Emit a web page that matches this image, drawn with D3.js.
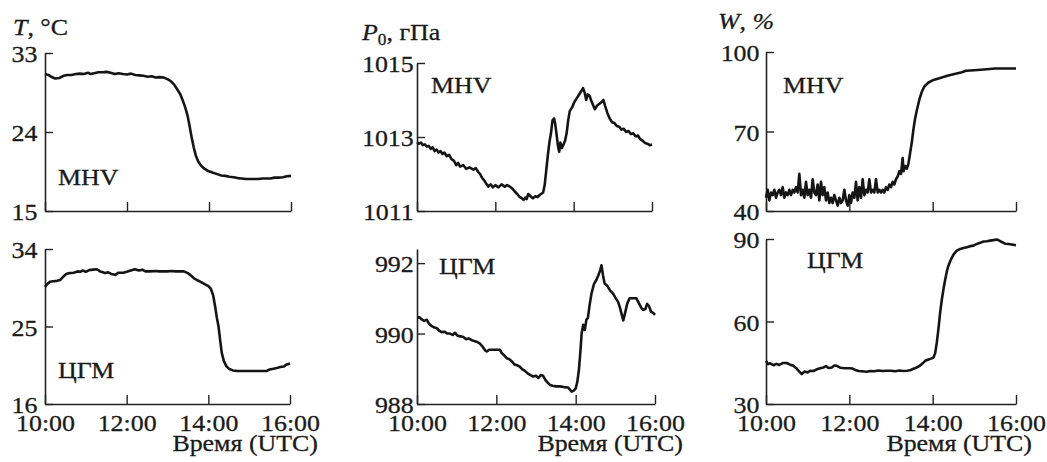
<!DOCTYPE html>
<html>
<head>
<meta charset="utf-8">
<script src="https://cdn.jsdelivr.net/npm/d3@7"></script>
<style>
  body { margin: 0; background: #fff; }
  text { font-family: "Liberation Serif", "Times New Roman", Times, serif; fill: #1a1a1a; stroke: #1a1a1a; stroke-width: 0.3px; }
</style>
</head>
<body>
<script>
// time axis (hours UTC)
const hours = [10, 12, 14, 16];
const timeLabels = ["10:00", "12:00", "14:00", "16:00"];

// y tick values
const tTicksMhv = [15, 24, 33];
const tTicksCgm = [16, 25, 34];
const pTicksMhv = [1011, 1013, 1015];
const pTicksCgm = [988, 990, 992];
const wTicksMhv = [40, 70, 100];
const wTicksCgm = [30, 60, 90];

// series: [hour, value]
const tMhv = [
  [10.0,30.6],[10.08,30.5],[10.15,30.3],[10.25,30.1],[10.35,30.15],[10.45,30.4],[10.55,30.5],[10.65,30.5],
  [10.75,30.6],[10.85,30.65],[10.95,30.6],[11.05,30.75],[11.12,30.6],[11.2,30.7],[11.3,30.8],[11.4,30.8],
  [11.5,30.85],[11.6,30.75],[11.7,30.6],[11.8,30.7],[11.9,30.6],[12.0,30.55],[12.1,30.65],[12.2,30.5],
  [12.3,30.45],[12.4,30.4],[12.5,30.3],[12.6,30.35],[12.7,30.2],[12.8,30.25],[12.9,30.2],[13.0,30.0],
  [13.08,29.75],[13.15,29.4],[13.22,28.9],[13.3,28.3],[13.36,27.6],[13.42,26.8],[13.48,25.8],[13.53,24.6],
  [13.58,23.3],[13.63,22.2],[13.68,21.3],[13.74,20.6],[13.8,20.2],[13.88,19.85],[13.98,19.55],[14.1,19.35],
  [14.2,19.2],[14.3,19.05],[14.4,19.0],[14.5,18.9],[14.6,18.85],[14.7,18.75],[14.8,18.7],[14.9,18.65],
  [15.0,18.65],[15.1,18.65],[15.2,18.65],[15.3,18.7],[15.4,18.7],[15.5,18.7],[15.6,18.8],[15.7,18.8],
  [15.8,18.85],[15.9,18.95],[16.0,19.0]
];
const tCgm = [
  [10.0,29.6],[10.05,29.9],[10.12,30.2],[10.2,30.25],[10.3,30.3],[10.37,30.4],[10.45,30.8],[10.52,31.1],
  [10.6,31.2],[10.7,31.25],[10.8,31.4],[10.86,31.35],[10.92,31.5],[11.0,31.35],[11.08,31.55],[11.18,31.6],
  [11.27,31.65],[11.35,31.4],[11.42,31.3],[11.47,31.2],[11.55,31.3],[11.62,31.1],[11.72,31.0],[11.8,31.25],
  [11.92,31.25],[12.0,31.35],[12.1,31.5],[12.2,31.65],[12.3,31.5],[12.38,31.6],[12.46,31.4],[12.57,31.4],
  [12.7,31.45],[12.8,31.4],[12.9,31.4],[13.0,31.4],[13.1,31.45],[13.2,31.4],[13.3,31.4],[13.4,31.4],
  [13.5,31.2],[13.58,30.9],[13.65,30.6],[13.72,30.4],[13.8,30.2],[13.9,29.95],[14.0,29.7],[14.06,29.4],
  [14.12,28.6],[14.17,27.2],[14.21,26.0],[14.25,25.0],[14.29,23.4],[14.33,21.9],[14.38,21.0],[14.44,20.4],
  [14.5,20.1],[14.6,19.9],[14.7,19.83],[14.8,19.83],[14.9,19.83],[15.0,19.83],[15.1,19.83],[15.2,19.83],
  [15.3,19.83],[15.43,19.85],[15.5,20.0],[15.6,20.1],[15.7,20.2],[15.76,20.3],[15.85,20.35],[15.92,20.6],
  [16.0,20.7]
];
const pMhv = [
  [10.0,1012.86],[10.05,1012.82],[10.1,1012.85],[10.15,1012.78],[10.2,1012.8],[10.25,1012.74],[10.3,1012.76],
  [10.35,1012.68],[10.4,1012.72],[10.45,1012.62],[10.5,1012.66],[10.55,1012.58],[10.6,1012.62],[10.65,1012.54],
  [10.7,1012.58],[10.76,1012.48],[10.82,1012.52],[10.88,1012.4],[10.94,1012.36],[11.0,1012.24],[11.05,1012.3],
  [11.1,1012.2],[11.18,1012.24],[11.26,1012.14],[11.34,1012.18],[11.44,1012.12],[11.5,1012.16],[11.56,1012.06],
  [11.61,1012.0],[11.66,1011.9],[11.72,1011.82],[11.78,1011.72],[11.82,1011.66],[11.88,1011.72],[11.94,1011.64],
  [12.0,1011.7],[12.08,1011.64],[12.16,1011.72],[12.24,1011.66],[12.3,1011.7],[12.37,1011.66],[12.44,1011.6],
  [12.5,1011.52],[12.56,1011.46],[12.62,1011.38],[12.68,1011.34],[12.72,1011.3],[12.76,1011.36],[12.8,1011.32],
  [12.84,1011.46],[12.9,1011.4],[12.96,1011.34],[13.02,1011.4],[13.08,1011.38],[13.14,1011.44],[13.22,1011.5],
  [13.26,1011.7],[13.3,1012.1],[13.34,1012.5],[13.38,1012.85],[13.42,1013.1],[13.46,1013.45],[13.5,1013.5],
  [13.53,1013.35],[13.56,1013.1],[13.6,1012.75],[13.63,1012.6],[13.66,1012.85],[13.7,1012.7],[13.74,1012.8],
  [13.78,1012.9],[13.82,1013.1],[13.86,1013.45],[13.9,1013.7],[13.96,1013.8],[14.02,1013.95],[14.08,1014.05],
  [14.14,1014.15],[14.2,1014.25],[14.24,1014.32],[14.28,1014.2],[14.32,1014.0],[14.36,1014.15],[14.41,1014.1],
  [14.46,1013.95],[14.5,1013.85],[14.54,1013.75],[14.6,1013.85],[14.66,1013.9],[14.72,1013.95],[14.76,1014.0],
  [14.8,1013.85],[14.86,1013.65],[14.92,1013.5],[14.98,1013.4],[15.04,1013.38],[15.1,1013.3],[15.16,1013.28],
  [15.22,1013.2],[15.28,1013.22],[15.34,1013.14],[15.4,1013.16],[15.46,1013.08],[15.52,1013.1],[15.58,1013.02],
  [15.64,1013.04],[15.7,1012.94],[15.76,1012.9],[15.82,1012.84],[15.88,1012.82],[15.94,1012.78],[16.0,1012.8]
];
const pCgm = [
  [10.0,990.46],[10.06,990.46],[10.12,990.4],[10.18,990.36],[10.25,990.39],[10.3,990.28],[10.36,990.22],
  [10.42,990.18],[10.5,990.15],[10.56,990.08],[10.62,990.04],[10.7,990.05],[10.76,990.0],[10.83,990.0],
  [10.9,989.96],[10.96,990.02],[11.02,989.94],[11.1,989.92],[11.17,989.9],[11.24,989.84],[11.3,989.86],
  [11.4,989.8],[11.5,989.77],[11.58,989.72],[11.66,989.62],[11.72,989.52],[11.76,989.49],[11.82,989.54],
  [11.9,989.54],[12.0,989.54],[12.09,989.54],[12.14,989.44],[12.2,989.38],[12.26,989.3],[12.32,989.28],
  [12.4,989.2],[12.46,989.12],[12.52,989.1],[12.59,989.06],[12.66,988.98],[12.72,988.94],[12.8,988.86],
  [12.86,988.82],[12.93,988.78],[13.0,988.8],[13.06,988.74],[13.12,988.82],[13.18,988.8],[13.24,988.68],
  [13.3,988.6],[13.35,988.54],[13.42,988.52],[13.5,988.5],[13.6,988.5],[13.7,988.48],[13.81,988.47],
  [13.86,988.4],[13.9,988.35],[13.95,988.38],[14.0,988.44],[14.04,988.62],[14.08,988.95],[14.12,989.5],
  [14.15,990.0],[14.19,990.25],[14.23,990.1],[14.27,990.39],[14.31,990.45],[14.35,990.8],[14.4,991.14],
  [14.46,991.4],[14.52,991.52],[14.57,991.65],[14.62,991.8],[14.65,991.94],[14.69,991.65],[14.73,991.42],
  [14.8,991.35],[14.87,991.22],[14.94,991.14],[15.0,991.02],[15.07,990.9],[15.12,990.72],[15.17,990.5],
  [15.2,990.37],[15.25,990.6],[15.3,990.85],[15.36,991.0],[15.45,991.0],[15.53,991.0],[15.6,990.85],
  [15.66,990.72],[15.7,990.67],[15.76,990.7],[15.8,990.84],[15.85,990.78],[15.9,990.62],[15.96,990.58],
  [16.0,990.53]
];
const wMhv = [
  [10.0,45],[10.04,48],[10.08,44],[10.12,47],[10.16,46],[10.2,48],[10.24,45],[10.28,47],[10.32,48],[10.36,46],
  [10.4,49],[10.44,45],[10.48,47],[10.52,46],[10.56,48],[10.6,46],[10.64,48],[10.68,47],[10.72,49],[10.76,47],
  [10.8,54],[10.84,46],[10.88,48],[10.92,45],[10.96,51],[11.0,46],[11.04,48],[11.08,45],[11.12,52],[11.16,47],
  [11.2,46],[11.24,50],[11.28,44],[11.32,51],[11.36,46],[11.4,49],[11.44,44],[11.48,47],[11.52,43],[11.56,45],
  [11.6,43],[11.64,46],[11.68,44],[11.72,42],[11.76,45],[11.8,43],[11.84,44],[11.88,48],[11.92,44],[11.96,42],
  [12.0,46],[12.04,43],[12.08,47],[12.12,45],[12.16,51],[12.2,44],[12.24,49],[12.28,45],[12.32,52],[12.36,46],
  [12.4,48],[12.44,47],[12.48,52],[12.52,47],[12.56,48],[12.6,47],[12.64,52],[12.68,47],[12.72,48],[12.76,47],
  [12.8,48],[12.84,47],[12.88,49],[12.92,48],[12.96,50],[13.0,49],[13.04,51],[13.08,50],[13.12,52],[13.16,53],
  [13.2,55],[13.24,54],[13.28,60],[13.3,55],[13.34,57],[13.38,56],[13.42,58],[13.46,62],[13.5,66],[13.54,71],
  [13.58,75],[13.62,78],[13.68,82],[13.74,85],[13.8,87],[13.9,88.5],[14.0,89.3],[14.1,89.8],[14.2,90.3],
  [14.3,90.8],[14.4,91.2],[14.5,91.6],[14.6,92.0],[14.7,92.4],[14.8,92.9],[14.9,93.0],[15.0,93.1],[15.15,93.3],
  [15.3,93.5],[15.5,93.8],[15.75,93.8],[16.0,93.8]
];
const wCgm = [
  [10.0,45.7],[10.05,44.5],[10.1,44.8],[10.18,44.1],[10.25,44.6],[10.32,44.2],[10.4,44.9],[10.5,44.9],
  [10.58,44.3],[10.66,43.9],[10.74,42.8],[10.8,41.8],[10.86,40.9],[10.92,41.8],[11.0,41.5],[11.06,42.1],
  [11.14,42.0],[11.22,42.6],[11.3,43.0],[11.38,43.3],[11.44,43.8],[11.5,43.1],[11.58,43.3],[11.64,44.0],
  [11.7,43.9],[11.78,43.2],[11.9,43.0],[12.0,43.0],[12.08,42.9],[12.14,42.4],[12.22,42.0],[12.3,41.9],
  [12.42,41.7],[12.5,42.0],[12.6,41.9],[12.7,42.2],[12.8,42.0],[12.9,42.1],[13.0,42.1],[13.1,41.9],
  [13.2,42.2],[13.3,42.0],[13.38,42.1],[13.46,42.3],[13.54,42.8],[13.62,43.3],[13.7,44.0],[13.76,44.8],
  [13.82,45.7],[13.9,46.2],[13.96,46.5],[14.02,46.9],[14.06,48.5],[14.1,52.4],[14.14,57.5],[14.18,63.3],
  [14.22,68.0],[14.26,71.8],[14.3,75.2],[14.34,78.2],[14.38,80.4],[14.44,82.6],[14.5,84.3],[14.58,85.8],
  [14.66,86.4],[14.74,86.7],[14.82,87.0],[14.9,87.4],[14.98,87.6],[15.06,88.2],[15.14,88.6],[15.22,89.1],
  [15.3,89.2],[15.38,89.4],[15.46,89.6],[15.54,89.8],[15.6,89.4],[15.66,88.9],[15.74,88.3],[15.82,88.2],
  [15.9,88.0],[16.0,87.7]
];

const W = 1047, H = 462;
const FS = 24;          // font size
const SX = 1.08;        // the scan is a bit stretched horizontally

const svg = d3.select("body").append("svg")
    .attr("width", W)
    .attr("height", H);

svg.append("rect").attr("width", W).attr("height", H).attr("fill", "#fff");

function label(x, y, anchor) {
  return svg.append("text")
    .attr("transform", `translate(${x},${y}) scale(${SX},1)`)
    .attr("text-anchor", anchor || "start")
    .style("font-size", FS + "px");
}

function panel(cfg) {
  const x = d3.scaleLinear().domain([10, 16]).range([cfg.x0, cfg.x1]);
  const y = d3.scaleLinear().domain(cfg.domain).range([cfg.yb, cfg.yt]);

  const gx = svg.append("g")
      .attr("transform", `translate(0,${cfg.yb})`)
      .call(d3.axisBottom(x)
        .tickValues(hours)
        .tickSize(-9)
        .tickSizeOuter(0)
        .tickPadding(10)
        .tickFormat((d, i) => cfg.showX ? timeLabels[i] : ""));

  const gy = svg.append("g")
      .attr("transform", `translate(${cfg.x0},0)`)
      .call(d3.axisLeft(y)
        .tickValues(cfg.ticks)
        .tickSize(-8)
        .tickSizeOuter(0)
        .tickPadding(cfg.pad)
        .tickFormat(d3.format("d")));

  [gx, gy].forEach(g => {
    g.attr("font-family", null).attr("font-size", null);
    g.select(".domain").attr("stroke", "#222").attr("stroke-width", 1.6);
    g.selectAll(".tick line").attr("stroke", "#222").attr("stroke-width", 1.4);
    g.selectAll("text")
      .attr("transform", `scale(${SX},1)`)
      .style("font-size", FS + "px")
      .attr("fill", "#1a1a1a");
  });
  gy.selectAll("text").attr("dy", "0.36em");

  const line = d3.line()
      .x(d => x(d[0]))
      .y(d => y(d[1]));

  svg.append("path")
      .datum(cfg.data)
      .attr("d", line)
      .attr("fill", "none")
      .attr("stroke", "#151515")
      .attr("stroke-width", 2.6)
      .attr("stroke-linejoin", "round");

  label(cfg.nameX, cfg.nameY).text(cfg.name);
}

// temperature
panel({x0: 45, x1: 291, yt: 53, yb: 211, domain: [15, 33], ticks: tTicksMhv, pad: 7,
       data: tMhv, name: "MHV", nameX: 58, nameY: 185});
panel({x0: 45, x1: 290, yt: 249, yb: 404, domain: [16, 34], ticks: tTicksCgm, pad: 7,
       data: tCgm, name: "ЦГМ", nameX: 58, nameY: 378, showX: true});

// pressure
panel({x0: 417, x1: 652, yt: 63, yb: 211, domain: [1011, 1015], ticks: pTicksMhv, pad: 3,
       data: pMhv, name: "MHV", nameX: 431, nameY: 93});
panel({x0: 417, x1: 655, yt: 249, yb: 404, domain: [988, 992.4], ticks: pTicksCgm, pad: 3,
       data: pCgm, name: "ЦГМ", nameX: 439, nameY: 274, showX: true});

// humidity
panel({x0: 766, x1: 1016, yt: 52, yb: 211, domain: [40, 100], ticks: wTicksMhv, pad: 6,
       data: wMhv, name: "MHV", nameX: 783, nameY: 93});
panel({x0: 766, x1: 1016, yt: 239, yb: 404, domain: [30, 90], ticks: wTicksCgm, pad: 6,
       data: wCgm, name: "ЦГМ", nameX: 807, nameY: 268, showX: true});

// axis titles
const tT = label(13, 35);
tT.append("tspan").style("font-style", "italic").text("T");
tT.append("tspan").text(", °C");

const tP = label(362, 40);
tP.append("tspan").style("font-style", "italic").text("P");
tP.append("tspan").attr("dy", 5).style("font-size", "16px").text("0");
tP.append("tspan").attr("dy", -5).text(", гПа");

const tW = label(718, 29);
tW.append("tspan").style("font-style", "italic").text("W");
tW.append("tspan").text(", ");
tW.append("tspan").style("font-style", "italic").text("%");

label(318, 451, "end").text("Время (UTC)");
label(683, 451, "end").text("Время (UTC)");
label(1032, 451, "end").text("Время (UTC)");
</script>
</body>
</html>
